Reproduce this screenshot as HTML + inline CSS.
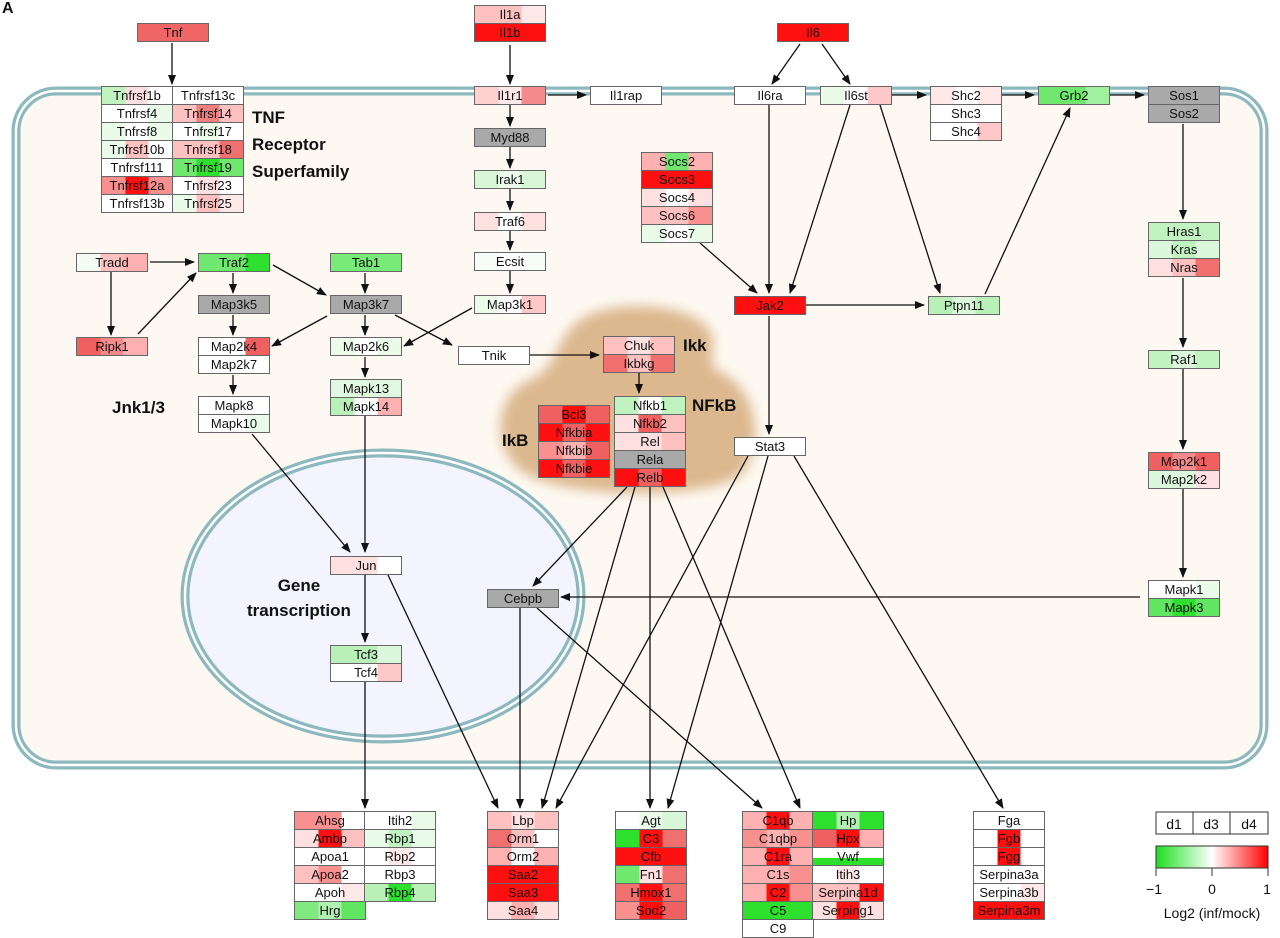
<!DOCTYPE html>
<html><head><meta charset="utf-8"><style>
body{margin:0;width:1280px;height:936px;background:#fff;position:relative;overflow:hidden;font-family:"Liberation Sans Narrow","Liberation Sans",sans-serif}
.b{position:absolute;height:17px;width:70px;border:1px solid #666;box-sizing:content-box;font-size:13px;line-height:17px;text-align:center;color:#111;
background:linear-gradient(90deg,var(--a,#fff) 33.3%,var(--b,var(--a,#fff)) 33.3% 66.6%,var(--c,var(--a,#fff)) 66.6%)}
.gy{background:#a9a9a9}
.t{position:absolute;font-family:"Liberation Sans",sans-serif;font-weight:bold;font-size:17px;color:#111}
svg{position:absolute;left:0;top:0}
</style></head><body>
<svg width="1280" height="936">
<defs>
<marker id="ar" markerWidth="10" markerHeight="8" refX="9" refY="4" orient="auto" markerUnits="userSpaceOnUse"><path d="M0,0 L10,4 L0,8 z" fill="#111"/></marker>
<filter id="bl"><feGaussianBlur stdDeviation="6"/></filter>
<linearGradient id="lg"><stop offset="0" stop-color="#1ee01e"/><stop offset="0.5" stop-color="#fff"/><stop offset="1" stop-color="#ff0000"/></linearGradient>
</defs>
<rect x="16" y="91" width="1248" height="674" rx="40" fill="#fdf9f2" stroke="#8cb8be" stroke-width="9"/>
<rect x="16" y="91" width="1248" height="674" rx="40" fill="none" stroke="#fff" stroke-width="2.5"/>
<ellipse cx="383" cy="596" rx="198" ry="143" fill="#f3f4fd" stroke="#8cb8be" stroke-width="9"/>
<ellipse cx="383" cy="596" rx="198" ry="143" fill="none" stroke="#fff" stroke-width="2.5"/>
<path d="M570,330 C590,298 680,300 705,325 C725,345 700,360 720,372 C760,390 765,450 740,475 C710,500 560,500 520,470 C490,445 495,395 530,380 C555,370 555,345 570,330 z" fill="#dcb88e" filter="url(#bl)"/>
<g stroke="#111" stroke-width="1.3" fill="none" marker-end="url(#ar)">
<line x1="172" y1="43" x2="172" y2="84"/>
<line x1="510" y1="45" x2="510" y2="84"/>
<line x1="800" y1="44" x2="772" y2="84"/>
<line x1="822" y1="44" x2="850" y2="84"/>
<line x1="548" y1="95" x2="586" y2="95"/>
<line x1="892" y1="95" x2="926" y2="95"/>
<line x1="1002" y1="95" x2="1034" y2="95"/>
<line x1="1110" y1="95" x2="1144" y2="95"/>
<line x1="510" y1="105" x2="510" y2="126"/>
<line x1="510" y1="147" x2="510" y2="168"/>
<line x1="510" y1="189" x2="510" y2="210"/>
<line x1="510" y1="231" x2="510" y2="250"/>
<line x1="510" y1="271" x2="510" y2="293"/>
<line x1="150" y1="262" x2="194" y2="262"/>
<line x1="111" y1="272" x2="111" y2="335"/>
<line x1="138" y1="334" x2="196" y2="273"/>
<line x1="233" y1="273" x2="233" y2="293"/>
<line x1="273" y1="265" x2="326" y2="295"/>
<line x1="365" y1="273" x2="365" y2="293"/>
<line x1="233" y1="315" x2="233" y2="335"/>
<line x1="327" y1="316" x2="272" y2="346"/>
<line x1="365" y1="315" x2="365" y2="335"/>
<line x1="395" y1="315" x2="452" y2="345"/>
<line x1="472" y1="308" x2="404" y2="346"/>
<line x1="233" y1="375" x2="233" y2="394"/>
<line x1="365" y1="357" x2="365" y2="377"/>
<line x1="252" y1="434" x2="350" y2="552"/>
<line x1="365" y1="416" x2="365" y2="552"/>
<line x1="530" y1="355" x2="599" y2="355"/>
<line x1="639" y1="373" x2="639" y2="393"/>
<line x1="769" y1="105" x2="769" y2="293"/>
<line x1="850" y1="105" x2="790" y2="293"/>
<line x1="880" y1="105" x2="940" y2="293"/>
<line x1="985" y1="294" x2="1070" y2="108"/>
<line x1="700" y1="243" x2="757" y2="293"/>
<line x1="806" y1="305" x2="924" y2="305"/>
<line x1="769" y1="316" x2="769" y2="434"/>
<line x1="1183" y1="124" x2="1183" y2="219"/>
<line x1="1183" y1="278" x2="1183" y2="347"/>
<line x1="1183" y1="369" x2="1183" y2="449"/>
<line x1="1183" y1="489" x2="1183" y2="577"/>
<line x1="1140" y1="597" x2="561" y2="597"/>
<line x1="365" y1="575" x2="365" y2="642"/>
<line x1="365" y1="682" x2="365" y2="808"/>
<line x1="388" y1="575" x2="498" y2="808"/>
<line x1="520" y1="608" x2="520" y2="808"/>
<line x1="537" y1="608" x2="762" y2="808"/>
<line x1="627" y1="487" x2="533" y2="586"/>
<line x1="635" y1="487" x2="542" y2="808"/>
<line x1="650" y1="487" x2="650" y2="808"/>
<line x1="663" y1="487" x2="800" y2="808"/>
<line x1="748" y1="456" x2="556" y2="808"/>
<line x1="768" y1="456" x2="668" y2="808"/>
<line x1="794" y1="456" x2="1003" y2="808"/>
</g>
<rect x="1156" y="846" width="112" height="22" fill="url(#lg)" stroke="#333"/>
<g stroke="#333"><line x1="1156" y1="868" x2="1156" y2="876"/><line x1="1212" y1="868" x2="1212" y2="876"/><line x1="1268" y1="868" x2="1268" y2="876"/></g>
<rect x="1156" y="812" width="112" height="22" fill="#fff" stroke="#333"/>
<line x1="1193" y1="812" x2="1193" y2="834" stroke="#333"/><line x1="1230" y1="812" x2="1230" y2="834" stroke="#333"/>
<g font-family="Liberation Sans Narrow,Liberation Sans,sans-serif" font-size="14" fill="#111" text-anchor="middle">
<text x="1174" y="829">d1</text><text x="1211" y="829">d3</text><text x="1249" y="829">d4</text>
<text x="1154" y="894">−1</text><text x="1212" y="894">0</text><text x="1267" y="894">1</text>
<text x="1212" y="918">Log2 (inf/mock)</text>
</g>
</svg>
<div class="t" style="left:2px;top:0;font-size:16px">A</div>
<div class="t" style="left:252px;top:104px;line-height:27px">TNF<br>Receptor<br>Superfamily</div>
<div class="t" style="left:112px;top:398px">Jnk1/3</div>
<div class="t" style="left:683px;top:336px">Ikk</div>
<div class="t" style="left:692px;top:396px">NFkB</div>
<div class="t" style="left:502px;top:431px">IkB</div>
<div class="t" style="left:247px;top:573px;line-height:25px;text-align:center">Gene<br>transcription</div>

<div class="b" style="left:137px;top:23px;--a:#f06565">Tnf</div>
<div class="b" style="left:474px;top:5px;--a:#ffc0c0;--c:#ffe8e8">Il1a</div>
<div class="b" style="left:474px;top:23px;--a:#ff1010">Il1b</div>
<div class="b" style="left:777px;top:23px;--a:#ff1010">Il6</div>

<div class="b" style="left:101px;top:86px;--a:#c0f3c0;--b:#ffe0e0;--c:#fff">Tnfrsf1b</div>
<div class="b" style="left:172px;top:86px">Tnfrsf13c</div>
<div class="b" style="left:101px;top:104px;--a:#fff;--c:#eafbea">Tnfrsf4</div>
<div class="b" style="left:172px;top:104px;--a:#ffc0c0;--b:#f08080;--c:#ffc0c0">Tnfrsf14</div>
<div class="b" style="left:101px;top:122px;--a:#eafbea;--b:#fff">Tnfrsf8</div>
<div class="b" style="left:172px;top:122px;--a:#fff;--b:#eafbea">Tnfrsf17</div>
<div class="b" style="left:101px;top:140px;--a:#eafbea;--b:#ffc0c0;--c:#fff">Tnfrsf10b</div>
<div class="b" style="left:172px;top:140px;--a:#ffc0c0;--c:#f07070">Tnfrsf18</div>
<div class="b" style="left:101px;top:158px">Tnfrsf111</div>
<div class="b" style="left:172px;top:158px;--a:#70e870;--b:#2de02d;--c:#70e870">Tnfrsf19</div>
<div class="b" style="left:101px;top:176px;--a:#f89090;--b:#ff1010">Tnfrsf12a</div>
<div class="b" style="left:172px;top:176px;--a:#fff;--b:#ffe0e0;--c:#fff">Tnfrsf23</div>
<div class="b" style="left:101px;top:194px">Tnfrsf13b</div>
<div class="b" style="left:172px;top:194px;--a:#eafbea;--b:#ffc0c0;--c:#ffe8e8">Tnfrsf25</div>

<div class="b" style="left:474px;top:86px;--a:#ffd0d0;--b:#ffe8e8;--c:#f48a8a">Il1r1</div>
<div class="b" style="left:590px;top:86px">Il1rap</div>
<div class="b" style="left:734px;top:86px">Il6ra</div>
<div class="b" style="left:820px;top:86px;--a:#eafbea;--b:#fff;--c:#ffc8c8">Il6st</div>
<div class="b" style="left:930px;top:86px;--a:#ffe8e8;--b:#fff;--c:#ffe8e8">Shc2</div>
<div class="b" style="left:930px;top:104px">Shc3</div>
<div class="b" style="left:930px;top:122px;--a:#fff;--c:#ffc8c8">Shc4</div>
<div class="b" style="left:1038px;top:86px;--a:#70e870;--c:#a0f0a0">Grb2</div>
<div class="b gy" style="left:1148px;top:86px">Sos1</div>
<div class="b gy" style="left:1148px;top:104px">Sos2</div>

<div class="b gy" style="left:474px;top:128px">Myd88</div>
<div class="b" style="left:474px;top:170px;--a:#d8f6d8;--b:#eafbea">Irak1</div>
<div class="b" style="left:474px;top:212px;--a:#ffe0e0;--b:#fff">Traf6</div>
<div class="b" style="left:474px;top:252px;--a:#f6fdf6;--b:#fff">Ecsit</div>
<div class="b" style="left:474px;top:295px;--a:#eafbea;--b:#fff;--c:#ffc8c8">Map3k1</div>

<div class="b" style="left:76px;top:253px;--a:#f4fdf4;--b:#ffc0c0;--c:#ffb0b0">Tradd</div>
<div class="b" style="left:198px;top:253px;--a:#70e870;--c:#30e030">Traf2</div>
<div class="b" style="left:330px;top:253px;--a:#78ea78">Tab1</div>
<div class="b gy" style="left:198px;top:295px">Map3k5</div>
<div class="b gy" style="left:330px;top:295px">Map3k7</div>
<div class="b" style="left:76px;top:337px;--a:#f06060;--b:#f48a8a;--c:#ffb0b0">Ripk1</div>
<div class="b" style="left:198px;top:337px;--a:#fff;--c:#f06060">Map2k4</div>
<div class="b" style="left:198px;top:355px">Map2k7</div>
<div class="b" style="left:330px;top:337px;--a:#eafbea;--b:#fff">Map2k6</div>
<div class="b" style="left:458px;top:346px">Tnik</div>
<div class="b" style="left:330px;top:379px;--a:#e0f8e0">Mapk13</div>
<div class="b" style="left:330px;top:397px;--a:#b8f0b8;--b:#fff;--c:#ffb0b0">Mapk14</div>
<div class="b" style="left:198px;top:396px">Mapk8</div>
<div class="b" style="left:198px;top:414px;--a:#fff;--c:#eafbea">Mapk10</div>

<div class="b" style="left:641px;top:152px;--a:#ffb0b0;--b:#70e870">Socs2</div>
<div class="b" style="left:641px;top:170px;--a:#ff1010">Socs3</div>
<div class="b" style="left:641px;top:188px;--a:#ffe0e0;--b:#fff">Socs4</div>
<div class="b" style="left:641px;top:206px;--a:#ffc0c0;--c:#f89090">Socs6</div>
<div class="b" style="left:641px;top:224px;--a:#eafbea;--b:#fff">Socs7</div>
<div class="b" style="left:734px;top:296px;--a:#ff1010">Jak2</div>
<div class="b" style="left:928px;top:296px;--a:#b8f0b8;--b:#dcf8dc">Ptpn11</div>
<div class="b" style="left:1148px;top:222px;--a:#c0f3c0">Hras1</div>
<div class="b" style="left:1148px;top:240px;--a:#dcf8dc;--b:#c0f3c0">Kras</div>
<div class="b" style="left:1148px;top:258px;--a:#ffe0e0;--b:#ffc0c0;--c:#f07070">Nras</div>
<div class="b" style="left:1148px;top:350px;--a:#c0f3c0;--b:#dcf8dc">Raf1</div>
<div class="b" style="left:1148px;top:452px;--a:#f06060;--b:#f48a8a">Map2k1</div>
<div class="b" style="left:1148px;top:470px;--a:#dcf8dc;--c:#ffe0e0">Map2k2</div>
<div class="b" style="left:1148px;top:580px;--a:#fff;--c:#eafbea">Mapk1</div>
<div class="b" style="left:1148px;top:598px;--a:#60e660;--b:#30e030">Mapk3</div>

<div class="b" style="left:603px;top:336px;--a:#ffc0c0;--b:#ffe0e0">Chuk</div>
<div class="b" style="left:603px;top:354px;--a:#f07070;--b:#ffc0c0">Ikbkg</div>
<div class="b" style="left:614px;top:396px;--a:#c0f3c0;--b:#fff">Nfkb1</div>
<div class="b" style="left:614px;top:414px;--a:#ffe0e0;--b:#f06060;--c:#ffc0c0">Nfkb2</div>
<div class="b" style="left:614px;top:432px;--a:#ffe0e0;--c:#ffc0c0">Rel</div>
<div class="b gy" style="left:614px;top:450px">Rela</div>
<div class="b" style="left:614px;top:468px;--a:#ff1010;--b:#f06060;--c:#ff1010">Relb</div>
<div class="b" style="left:538px;top:405px;--a:#f06060;--b:#ff1010">Bcl3</div>
<div class="b" style="left:538px;top:423px;--a:#ff1010;--b:#f06060">Nfkbia</div>
<div class="b" style="left:538px;top:441px;--a:#f89090;--b:#ffb0b0;--c:#f06060">Nfkbib</div>
<div class="b" style="left:538px;top:459px;--a:#ff1010;--b:#f06060;--c:#ff1010">Nfkbie</div>

<div class="b" style="left:734px;top:437px">Stat3</div>
<div class="b" style="left:330px;top:556px;--a:#ffe0e0;--c:#fff">Jun</div>
<div class="b gy" style="left:487px;top:589px">Cebpb</div>
<div class="b" style="left:330px;top:645px;--a:#b8f0b8;--c:#dcf8dc">Tcf3</div>
<div class="b" style="left:330px;top:663px;--a:#fff;--c:#ffc8c8">Tcf4</div>

<div class="b" style="left:294px;top:811px;--a:#f89090;--c:#fff">Ahsg</div>
<div class="b" style="left:364px;top:811px;--a:#fff;--c:#eafbea">Itih2</div>
<div class="b" style="left:294px;top:829px;--a:#ffe0e0;--b:#ff1010;--c:#ffc0c0">Ambp</div>
<div class="b" style="left:364px;top:829px;--a:#eafbea;--b:#c0f3c0">Rbp1</div>
<div class="b" style="left:294px;top:847px">Apoa1</div>
<div class="b" style="left:364px;top:847px;--a:#fff;--b:#ffe8e8">Rbp2</div>
<div class="b" style="left:294px;top:865px;--a:#ffc0c0;--b:#f89090;--c:#fff">Apoa2</div>
<div class="b" style="left:364px;top:865px">Rbp3</div>
<div class="b" style="left:294px;top:883px;--a:#fff;--c:#ffe8e8">Apoh</div>
<div class="b" style="left:364px;top:883px;--a:#b8f0b8;--b:#2de02d">Rbp4</div>
<div class="b" style="left:294px;top:901px;--a:#80ea80;--b:#b0f0b0;--c:#60e660">Hrg</div>

<div class="b" style="left:487px;top:811px;--a:#ffc0c0;--b:#ffe0e0;--c:#ffc0c0">Lbp</div>
<div class="b" style="left:487px;top:829px;--a:#f07070;--b:#ffc0c0;--c:#fff">Orm1</div>
<div class="b" style="left:487px;top:847px;--a:#ffb0b0;--b:#fff">Orm2</div>
<div class="b" style="left:487px;top:865px;--a:#ff1010">Saa2</div>
<div class="b" style="left:487px;top:883px;--a:#ff1010">Saa3</div>
<div class="b" style="left:487px;top:901px;--a:#ffe0e0;--b:#ffb0b0">Saa4</div>

<div class="b" style="left:615px;top:811px;--a:#fff;--b:#eafbea;--c:#d8f6d8">Agt</div>
<div class="b" style="left:615px;top:829px;--a:#2de02d;--b:#ff1010;--c:#f07070">C3</div>
<div class="b" style="left:615px;top:847px;--a:#ff1010">Cfb</div>
<div class="b" style="left:615px;top:865px;--a:#70e870;--b:#ffe0e0;--c:#f07070">Fn1</div>
<div class="b" style="left:615px;top:883px;--a:#f07070;--b:#ff1010;--c:#f07070">Hmox1</div>
<div class="b" style="left:615px;top:901px;--a:#f89090;--b:#ff1010;--c:#f06060">Sod2</div>

<div class="b" style="left:742px;top:811px;--a:#ffb0b0;--b:#ff1010">C1qb</div>
<div class="b" style="left:812px;top:811px;--a:#2de02d;--b:#b0f0b0;--c:#2de02d">Hp</div>
<div class="b" style="left:742px;top:829px;--a:#f89090;--b:#ffb0b0">C1qbp</div>
<div class="b" style="left:812px;top:829px;--a:#f06060;--b:#ff1010;--c:#ffb0b0">Hpx</div>
<div class="b" style="left:742px;top:847px;--a:#ffb0b0;--b:#ff1010">C1ra</div>
<div class="b" style="left:812px;top:847px;background:linear-gradient(#fff 60%,#2de02d 60%)">Vwf</div>
<div class="b" style="left:742px;top:865px;--a:#ffb0b0;--c:#f89090">C1s</div>
<div class="b" style="left:812px;top:865px;--a:#fff;--b:#ffe8e8;--c:#fff">Itih3</div>
<div class="b" style="left:742px;top:883px;--a:#ffb0b0;--b:#ff1010;--c:#f89090">C2</div>
<div class="b" style="left:812px;top:883px;--a:#ffc0c0;--c:#ff1010">Serpina1d</div>
<div class="b" style="left:742px;top:901px;--a:#2de02d">C5</div>
<div class="b" style="left:812px;top:901px;--a:#ffe0e0;--b:#ff1010">Serping1</div>
<div class="b" style="left:742px;top:919px">C9</div>

<div class="b" style="left:973px;top:811px">Fga</div>
<div class="b" style="left:973px;top:829px;--a:#fff;--b:#ff1010;--c:#fff">Fgb</div>
<div class="b" style="left:973px;top:847px;--a:#fff;--b:#ff1010;--c:#fff">Fgg</div>
<div class="b" style="left:973px;top:865px">Serpina3a</div>
<div class="b" style="left:973px;top:883px;--a:#fff;--c:#ffe8e8">Serpina3b</div>
<div class="b" style="left:973px;top:901px;--a:#ff1010">Serpina3m</div>
</body></html>
